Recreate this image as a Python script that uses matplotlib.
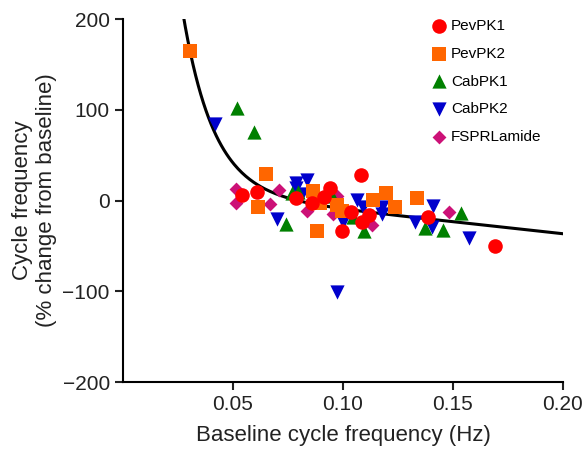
import numpy as np
import matplotlib.pyplot as plt

plt.rcParams['font.family'] = ['Liberation Sans', 'DejaVu Sans']

# baseline frequency (Hz), % change from baseline
pk1_x = [0.054, 0.0608, 0.0786, 0.0858, 0.0941, 0.0914, 0.1082, 0.1035, 0.112, 0.1085, 0.0994, 0.1388, 0.1691]
pk1_y = [6, 10, 3, -3, 14, 4, 28, -13, -16, -24, -34, -18, -50]

pk2_x = [0.0305, 0.065, 0.0615, 0.0865, 0.0895, 0.0883, 0.0975, 0.0994, 0.1138, 0.1195, 0.1236, 0.1335]
pk2_y = [165, 29, -7, 11, -3, -34, -5, -11, 1, 8, -7, 3]

cab1_x = [0.0517, 0.0595, 0.0741, 0.0767, 0.0797, 0.0949, 0.1045, 0.1095, 0.1373, 0.1456, 0.1535]
cab1_y = [102, 76, -26, 8, 9, 5, -18, -34, -30, -32, -14]

cab2_x = [0.0418, 0.0701, 0.0786, 0.0786, 0.0835, 0.0812, 0.0974, 0.1002, 0.1062, 0.1092,
          0.1176, 0.1176, 0.1327, 0.141, 0.1403, 0.1574]
cab2_y = [85, -20, 19, 14, 23, 7, -101, -24, 1, -7, -7, -15, -24, -6, -29, -41]

fspr_x = [0.0514, 0.0512, 0.0711, 0.0668, 0.0835, 0.0956, 0.0971, 0.113, 0.1483]
fspr_y = [13, -3, 12, -4, -11, -15, 5, -27, -13]

# fitted curve parameters
fit_a, fit_k, fit_c, fit_m = 1404, 72, 16.5, -265

fig = plt.figure(figsize=(5.87, 4.57), dpi=100)
ax = fig.add_axes([0.2095, 0.164, 0.7495, 0.794])

xf = np.linspace(0.026, 0.201, 300)
ax.plot(xf, fit_a * np.exp(-fit_k * xf) + fit_c + fit_m * xf, color='black', lw=2.2, zorder=1)

h5 = ax.scatter(fspr_x, fspr_y, marker='D', s=50, color='#cc1177', label='FSPRLamide', zorder=2, linewidths=0)
h4 = ax.scatter(cab2_x, cab2_y, marker='v', s=105, color='#0000cc', label='CabPK2', zorder=3, linewidths=0)
h3 = ax.scatter(cab1_x, cab1_y, marker='^', s=105, color='#008000', label='CabPK1', zorder=4, linewidths=0)
h2 = ax.scatter(pk2_x, pk2_y, marker='s', s=90, color='#ff6600', label='PevPK2', zorder=5, linewidths=0)
h1 = ax.scatter(pk1_x, pk1_y, marker='o', s=110, color='#ff0000', label='PevPK1', zorder=6, linewidths=0)

ax.set_xlim(0, 0.2)
ax.set_ylim(-200, 200)
ax.set_xticks([0.05, 0.10, 0.15, 0.20])
ax.set_xticklabels(['0.05', '0.10', '0.15', '0.20'])
ax.set_yticks([-200, -100, 0, 100, 200])
ax.spines['top'].set_visible(False)
ax.spines['right'].set_visible(False)
ax.spines['left'].set_linewidth(1.5)
ax.spines['bottom'].set_linewidth(1.5)
ax.tick_params(axis='both', labelsize=15, width=1.5, length=6, colors='#222222')

ax.set_xlabel('Baseline cycle frequency (Hz)', fontsize=16, color='#222222', labelpad=8)
ax.set_ylabel('Cycle frequency\n(% change from baseline)', fontsize=16, color='#222222', labelpad=4)

ax.legend(handles=[h1, h2, h3, h4, h5], loc='upper right', bbox_to_anchor=(0.976, 1.03),
          frameon=False, fontsize=11, handletextpad=-0.2, labelspacing=0.9, borderaxespad=0.3)

fig.savefig('out.png', dpi=100)
